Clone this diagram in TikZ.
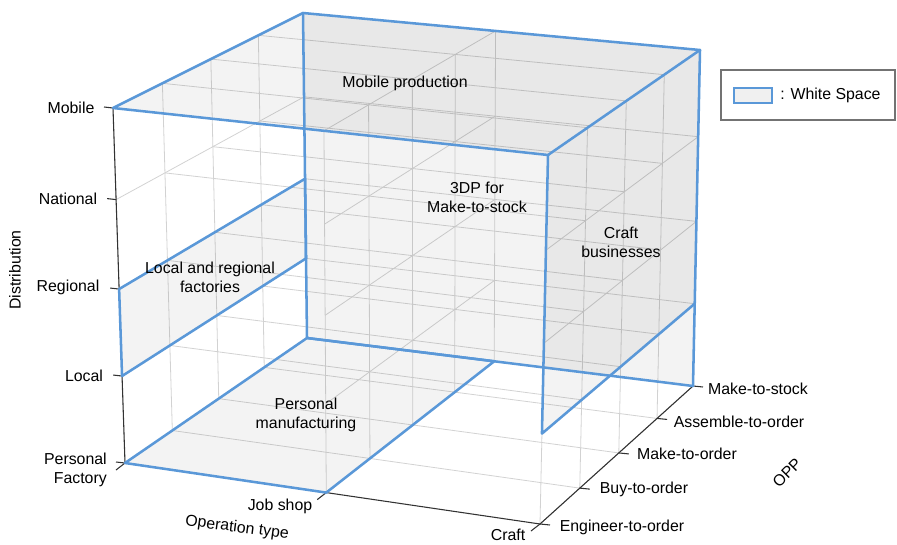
\documentclass[tikz,border=0pt]{standalone}
\usepackage{fontspec}
\setmainfont{Liberation Sans}
\usepackage{tikz}
\usetikzlibrary{calc,positioning}

\definecolor{wsblue}{RGB}{90,152,216}
\definecolor{gridgray}{RGB}{210,210,210}
\definecolor{axisgray}{RGB}{50,50,50}

\tikzset{
  wsline/.style={draw=wsblue, line width=1.9pt, line join=round, line cap=round},
  wsfill/.style={fill=black, fill opacity=0.048},
  gridline/.style={draw=gridgray, line width=0.6pt},
  axisline/.style={draw=axisgray, line width=0.8pt},
  lbl/.style={inner sep=0.75pt, font=\fontsize{11.9}{14.5}\selectfont, align=center},
}

\begin{document}
\begin{tikzpicture}[x=0.75pt,y=0.75pt,yscale=-1,xscale=1]
\useasboundingbox (0,0) rectangle (897,544);

%Box corners
\coordinate (P000) at (125,463);
\coordinate (P200) at (540,524);
\coordinate (P040) at (307,338);
\coordinate (P240) at (693,386);
\coordinate (P004) at (113,108);
\coordinate (P204) at (548,155);
\coordinate (P044) at (303,13);
\coordinate (P244) at (700,50);

%Lattice points (operation type i, OPP j, distribution k)
\foreach \i/\sx in {0/0,1/0.485,2/1} {
  \coordinate (bf\i) at ($(P000)!\sx!(P200)$);
  \coordinate (bb\i) at ($(P040)!\sx!(P240)$);
  \coordinate (tf\i) at ($(P004)!\sx!(P204)$);
  \coordinate (tb\i) at ($(P044)!\sx!(P244)$);
}
\foreach \i in {0,1,2} \foreach \j/\sy in {0/0,1/0.26,2/0.515,3/0.765,4/1} {
  \coordinate (b\i\j) at ($(bf\i)!\sy!(bb\i)$);
  \coordinate (t\i\j) at ($(tf\i)!\sy!(tb\i)$);
}
\foreach \i in {0,1,2} \foreach \j in {0,...,4} \foreach \k/\sz in {0/0,1/0.245,2/0.49,3/0.742,4/1} {
  \coordinate (p\i\j\k) at ($(b\i\j)!\sz!(t\i\j)$);
}

%Grid lines
\foreach \i in {0,1,2} \foreach \j in {0,...,4} \draw[gridline] (p\i\j0) -- (p\i\j4);
\foreach \i in {0,1,2} \foreach \k in {0,...,4} \draw[gridline] (p\i0\k) -- (p\i4\k);
\foreach \j in {1,...,4} \foreach \k in {0,...,4} \draw[gridline] (p0\j\k) -- (p1\j\k) -- (p2\j\k);

%White space faces
\fill[wsfill] (P004) -- (P044) -- (P244) -- (P204) -- cycle;
\fill[wsfill] (P040) -- (P240) -- (P244) -- (P044) -- cycle;
\fill[wsfill] (p201) -- (p241) -- (p244) -- (p204) -- cycle;
\fill[wsfill] (p001) -- (p041) -- (p042) -- (p002) -- cycle;
\fill[wsfill] (p000) -- (p100) -- (p140) -- (p040) -- cycle;

%Axes and ticks
\draw[axisline] (P004) -- (P000) -- (P200) -- (P240);
\foreach \k in {0,...,4} \draw[axisline] (p00\k) -- ++(-9,-1);
\foreach \i in {0,1,2} \draw[axisline] (p\i00) -- ++(-9,7);
\foreach \j in {0,...,4} \draw[axisline] (p2\j0) -- ++(10,1);

%White space outlines
\draw[wsline] (P004) -- (P044) -- (P244) -- (P204) -- cycle;
\draw[wsline] (P044) -- (P040) -- (P240) -- (P244);
\draw[wsline] (P204) -- (p201) -- (p241);
\draw[wsline] (p001) -- (p041) -- (p042) -- (p002) -- cycle;
\draw[wsline] (p000) -- (p100) -- (p140) -- (p040) -- cycle;

% Text Node
\node[lbl] (mobile) at (71,108) {Mobile};
% Text Node
\node[lbl] (national) at (68,199) {National};
% Text Node
\node[lbl] (regional) at (68,287) {Regional};
% Text Node
\node[lbl] (local) at (84,376) {Local};
% Text Node
\node[lbl, anchor=east, align=right] (persfac) at (108,470) {Personal\\Factory};
% Text Node
\node[lbl, rotate=90] (distlbl) at (15,270) {Distribution};
% Text Node
\node[lbl] (jobshop) at (280,506) {Job shop};
% Text Node
\node[lbl] (craft) at (508,535) {Craft};
% Text Node
\node[lbl, rotate=-7.5] (optype) at (237,528) {Operation type};
% Text Node
\node[lbl] (eto) at (622,527) {Engineer-to-order};
% Text Node
\node[lbl] (bto) at (644,489) {Buy-to-order};
% Text Node
\node[lbl] (mto) at (687,454) {Make-to-order};
% Text Node
\node[lbl] (ato) at (739,422) {Assemble-to-order};
% Text Node
\node[lbl] (mts) at (758,389) {Make-to-stock};
% Text Node
\node[lbl, rotate=45] (opplbl) at (787,473) {OPP};

% Text Node
\node[lbl] (mobprod) at (405,83) {Mobile production};
% Text Node
\node[lbl] (tdp) at (477,197) {3DP for\\Make-to-stock};
% Text Node
\node[lbl] (craftbiz) at (621,242) {Craft\\businesses};
% Text Node
\node[lbl] (locreg) at (210,277) {Local and regional\\factories};
% Text Node
\node[lbl] (persman) at (306,415) {Personal\\manufacturing};

%Legend
\node[draw=black!55, line width=0.9pt, minimum width=130.5pt, minimum height=37.5pt, inner sep=0pt] (legend) at (808,95) {};
\node[draw=wsblue, line width=1.6pt, fill=black!6, minimum width=28.5pt, minimum height=11.5pt, inner sep=0pt] (legkey) at (753,95.5) {};
\node[lbl, right=4.5pt of legkey] (legtext) {: White Space};

\end{tikzpicture}
\end{document}
